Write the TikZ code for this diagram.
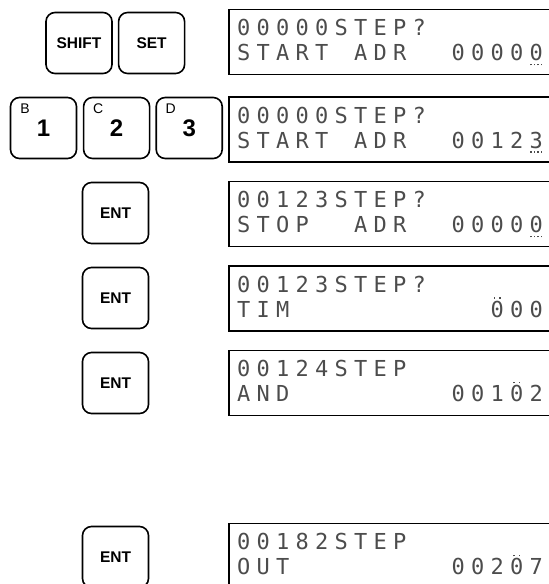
\documentclass[tikz,border=0pt]{standalone}
\usepackage{fontspec}
\usetikzlibrary{positioning}
\newfontfamily\keyfont{Liberation Sans}
\newfontfamily\lcdfont{DejaVu Sans Mono}

% one LCD cell per character, ~ for a blank cell
\newlength\lcdpitch
\setlength\lcdpitch{19.5pt}
\newcommand\lcd[1]{\lcdgo#1\relax}
\def\lcdgo#1{\ifx#1\relax\else\makebox[\lcdpitch]{#1}\expandafter\lcdgo\fi}
\newcommand\lcddot{\rule{1.5pt}{1.5pt}}
\newcommand\lcdbot[1]{\ooalign{#1\cr\hidewidth\raisebox{-4.5pt}{\lcddot\kern2pt\lcddot\kern2pt\lcddot\kern2pt\lcddot}\hidewidth\cr}}
\newcommand\lcdtop[1]{\ooalign{#1\cr\hidewidth\raisebox{18.5pt}{\lcddot\kern4pt\lcddot}\hidewidth\cr}}

\begin{document}
\begin{tikzpicture}[x=1pt,y=-1pt,
    key/.style={draw, line width=1.6pt, rounded corners=9pt, minimum width=66pt,
      minimum height=61pt, inner sep=0pt, font=\keyfont\bfseries\fontsize{15.5}{18}\selectfont},
    numkey/.style={key, font=\keyfont\bfseries\fontsize{24}{28}\selectfont},
    keyletter/.style={inner sep=0pt, font=\keyfont\fontsize{14}{16}\selectfont},
    display/.style={draw, line width=1.5pt, minimum width=340pt, minimum height=65pt, anchor=west},
    lcdline/.style={anchor=base west, inner sep=0pt, text=black!70,
      font=\lcdfont\fontsize{22}{24}\selectfont}]
    \useasboundingbox (0,0) rectangle (549,584);
    \clip (0,0) rectangle (549,584);

    % keys
    \node[key] (shift) at (79,43) {SHIFT};
    \node[key, right=5pt of shift] (set) {SET};
    \node[numkey] (kb) at (43.5,128) {1};
    \node[numkey, right=5.5pt of kb] (kc) {2};
    \node[numkey, right=5pt of kc] (kd) {3};
    \foreach \k/\l in {kb/B, kc/C, kd/D}
        \node[keyletter] (\k-l) at ([shift={(-18.5,-19)}]\k.center) {\l};
    \foreach \n/\y in {1/213, 2/298, 3/383, 4/557}
        \node[key] (ent\n) at (115.5,\y) {ENT};

    % displays
    \foreach \n/\y in {1/42, 2/129.5, 3/214, 4/298.5, 5/383, 6/556}
        \node[display] (disp\n) at (228,\y) {};

    \node[lcdline] (d1a) at ([shift={(5.75,27)}]disp1.north west) {\lcd{00000STEP?}};
    \node[lcdline] (d1b) at ([shift={(5.75,52)}]disp1.north west) {\lcd{START~ADR~~0000{\lcdbot0}}};
    \node[lcdline] (d2a) at ([shift={(5.75,27)}]disp2.north west) {\lcd{00000STEP?}};
    \node[lcdline] (d2b) at ([shift={(5.75,52)}]disp2.north west) {\lcd{START~ADR~~0012{\lcdbot3}}};
    \node[lcdline] (d3a) at ([shift={(5.75,27)}]disp3.north west) {\lcd{00123STEP?}};
    \node[lcdline] (d3b) at ([shift={(5.75,52)}]disp3.north west) {\lcd{STOP~~ADR~~0000{\lcdbot0}}};
    \node[lcdline] (d4a) at ([shift={(5.75,27)}]disp4.north west) {\lcd{00123STEP?}};
    \node[lcdline] (d4b) at ([shift={(5.75,52)}]disp4.north west) {\lcd{TIM~~~~~~~~~~{\lcdtop0}00}};
    \node[lcdline] (d5a) at ([shift={(5.75,27)}]disp5.north west) {\lcd{00124STEP}};
    \node[lcdline] (d5b) at ([shift={(5.75,52)}]disp5.north west) {\lcd{AND~~~~~~~~001{\lcdtop0}2}};
    \node[lcdline] (d6a) at ([shift={(5.75,27)}]disp6.north west) {\lcd{00182STEP}};
    \node[lcdline] (d6b) at ([shift={(5.75,52)}]disp6.north west) {\lcd{OUT~~~~~~~~002{\lcdtop0}7}};
\end{tikzpicture}
\end{document}
